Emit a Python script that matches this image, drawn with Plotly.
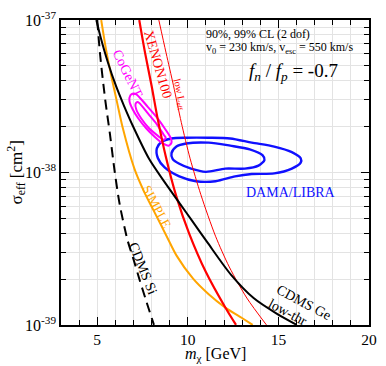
import plotly.graph_objects as go

# ---- data (mass in GeV, sigma in units of 1e-38 cm^2) ----
cdms_ge_m = [4.95, 5.19, 5.59, 6.03, 6.46, 7.00, 7.86, 8.72, 9.59, 10.23, 11.10, 12.39, 13.63, 14.88, 16.01]
cdms_ge_s = [10.0, 7.69, 5.27, 3.71, 2.77, 1.98, 1.23, 0.864, 0.618, 0.483, 0.345, 0.213, 0.150, 0.119, 0.100]

cdms_si_m = [5.0, 5.16, 5.43, 5.70, 5.97, 6.24, 6.67, 7.05, 7.32, 7.70, 8.13]
cdms_si_s = [10.0, 5.92, 3.07, 1.79, 1.00, 0.618, 0.361, 0.258, 0.201, 0.144, 0.100]

simple_m = [5.22, 5.49, 5.81, 6.08, 6.40, 7.05, 7.59, 8.13, 8.83, 9.37, 10.29, 11.15, 12.07, 12.99, 13.58]
simple_s = [10.0, 6.37, 4.11, 2.94, 1.98, 1.06, 0.747, 0.558, 0.382, 0.286, 0.201, 0.159, 0.130, 0.111, 0.100]

xenon_m = [7.32, 7.64, 8.00, 8.32, 8.78, 9.37, 10.07, 10.99, 12.07, 12.66]
xenon_s = [10.0, 6.09, 3.71, 2.30, 1.28, 0.695, 0.399, 0.223, 0.130, 0.100]

lowleff_m = [8.40, 8.80, 9.21, 9.64, 10.13, 10.72, 11.53, 12.29, 13.26, 14.34]
lowleff_s = [10.0, 6.09, 3.71, 2.13, 1.23, 0.715, 0.382, 0.240, 0.150, 0.100]

cogent99_m = [7.16, 7.75, 8.29, 8.72, 9.05, 9.10, 8.94, 8.62, 8.18, 7.70, 7.27, 6.94, 6.78, 6.83, 6.99, 7.16]
cogent99_s = [3.26, 2.73, 2.30, 1.95, 1.69, 1.57, 1.50, 1.55, 1.71, 1.95, 2.26, 2.62, 2.94, 3.21, 3.30, 3.26]
cogent90_m = [7.32, 7.81, 8.29, 8.67, 8.78, 8.67, 8.35, 7.86, 7.43, 7.16, 7.11, 7.21, 7.32]
cogent90_s = [2.86, 2.43, 2.07, 1.77, 1.69, 1.64, 1.74, 1.95, 2.26, 2.58, 2.81, 2.90, 2.86]

dama99_m = [8.29, 8.56, 9.10, 9.91, 11.15, 12.34, 13.53, 14.77, 15.74, 16.23, 16.23, 15.74, 14.77, 13.53, 12.61, 11.53, 10.45, 9.53, 8.72, 8.35, 8.29]
dama99_s = [1.44, 1.59, 1.67, 1.69, 1.69, 1.67, 1.57, 1.48, 1.36, 1.24, 1.16, 1.06, 0.986, 0.977, 0.943, 0.877, 0.877, 0.943, 1.08, 1.24, 1.44]
dama90_m = [9.10, 9.37, 9.91, 11.15, 12.34, 13.42, 14.12, 14.23, 13.90, 13.15, 12.07, 10.99, 10.18, 9.53, 9.16, 9.10]
dama90_s = [1.34, 1.48, 1.55, 1.57, 1.50, 1.42, 1.30, 1.21, 1.11, 1.06, 1.06, 1.01, 1.06, 1.14, 1.23, 1.34]

SCALE = 1e-38

x_ticks = [5, 10, 15, 20]
y_tickvals = [1e-39, 1e-38, 1e-37]
y_ticktext = ["10<sup>-39</sup>", "10<sup>-38</sup>", "10<sup>-37</sup>"]

FONT = "Liberation Serif"


def sc(v):
    return [s * SCALE for s in v]


fig = go.Figure()


def add(m, s, color, width, dash="solid"):
    fig.add_trace(go.Scatter(x=m, y=sc(s), mode="lines",
                             line=dict(color=color, width=width, dash=dash, shape="spline", smoothing=0.8),
                             showlegend=False, hoverinfo="skip"))


add(dama99_m, dama99_s, "#1010ff", 2.4)
add(dama90_m, dama90_s, "#1010ff", 2.4)
add(cogent99_m, cogent99_s, "#ff00ff", 2)
add(cogent90_m, cogent90_s, "#ff00ff", 2)
add(lowleff_m, lowleff_s, "#ff0000", 1)
add(simple_m, simple_s, "#ffa500", 2)
add(cdms_si_m, cdms_si_s, "black", 2, dash="10px,6px")
add(xenon_m, xenon_s, "#ff0000", 2.2)
add(cdms_ge_m, cdms_ge_s, "black", 2)

grid = "#e3e3e3"
fig.update_xaxes(range=[3, 20], tickvals=x_ticks, ticks="inside", ticklen=8, tickwidth=1.2,
                 tickcolor="black", mirror="allticks", showline=True, linecolor="black", linewidth=1.6,
                 showgrid=True, gridcolor=grid, gridwidth=1, zeroline=False, ticklabeloverflow="allow",
                 tickfont=dict(family=FONT, size=15.5, color="black"),
                 minor=dict(dtick=1, tick0=0, ticks="inside", ticklen=5, tickcolor="black",
                            showgrid=True, gridcolor=grid, gridwidth=1))
fig.update_yaxes(type="log", range=[-39.0005, -36.9995], tickvals=y_tickvals, ticktext=y_ticktext,
                 ticks="inside", ticklen=8, tickwidth=1.2, tickcolor="black", mirror="allticks",
                 showline=True, linecolor="black", linewidth=1.6, showgrid=True, gridcolor=grid,
                 zeroline=False, ticklabeloverflow="allow",
                 tickfont=dict(family=FONT, size=16, color="black"),
                 minor=dict(dtick="D1", ticks="inside", ticklen=5, tickcolor="black",
                            showgrid=True, gridcolor=grid, gridwidth=1))

ann = []


def lab(text, x, ly, angle, color, size):
    ann.append(dict(text=text, x=x, y=ly, xref="x", yref="y", showarrow=False, textangle=angle,
                    xanchor="center", yanchor="middle",
                    font=dict(family=FONT, size=size, color=color)))


lab("XENON100", 8.36, -37.291, 74, "#ff0000", 14)
lab("CoGeNT", 6.72, -37.354, 64, "#ff00ff", 14)
lab("low L<sub>eff</sub>", 9.52, -37.49, 78, "#ff0000", 10)
lab("SIMPLE", 8.29, -38.222, 62, "#ffa500", 13)
lab("CDMS Si", 7.54, -38.627, 68, "black", 14)
lab("CDMS Ge", 16.39, -38.854, 28, "black", 14)
lab("low-thr", 15.52, -38.918, 28, "black", 14)
lab("DAMA/LIBRA", 15.69, -38.133, 0, "#1010ff", 14)

ann.append(dict(text="90%, 99% CL (2 dof)", x=0.465, y=0.955, xref="paper", yref="paper",
                xanchor="left", yanchor="middle", showarrow=False,
                font=dict(family=FONT, size=12, color="black")))
ann.append(dict(text="v<sub>0</sub> = 230 km/s, v<sub>esc</sub> = 550 km/s", x=0.465, y=0.909,
                xref="paper", yref="paper", xanchor="left", yanchor="middle", showarrow=False,
                font=dict(family=FONT, size=12, color="black")))
ann.append(dict(text="<i>f</i><sub><i>n</i></sub> / <i>f</i><sub><i>p</i></sub> = -0.7", x=0.756, y=0.829,
                xref="paper", yref="paper", xanchor="center", yanchor="middle", showarrow=False,
                font=dict(family=FONT, size=19, color="black")))
ann.append(dict(text="<i>m</i><sub>χ</sub> [GeV]", x=0.5, y=-0.097, xref="paper", yref="paper",
                xanchor="center", yanchor="middle", showarrow=False,
                font=dict(family=FONT, size=16, color="black")))
ann.append(dict(text="σ<sub>eff</sub> [cm<sup>2</sup>]", x=-0.146, y=0.5, xref="paper", yref="paper",
                xanchor="center", yanchor="middle", textangle=-90, showarrow=False,
                font=dict(family=FONT, size=17, color="black")))

fig.update_layout(width=386, height=366, margin=dict(l=61, r=9, t=9, b=41),
                  plot_bgcolor="white", paper_bgcolor="white", annotations=ann,
                  font=dict(family=FONT, color="black"))

fig.write_html("out.html",
               config={"displayModeBar": False, "responsive": False},
               post_script="document.documentElement.style.overflow='hidden';"
                           "document.body.style.margin='0';document.body.style.overflow='hidden';")
